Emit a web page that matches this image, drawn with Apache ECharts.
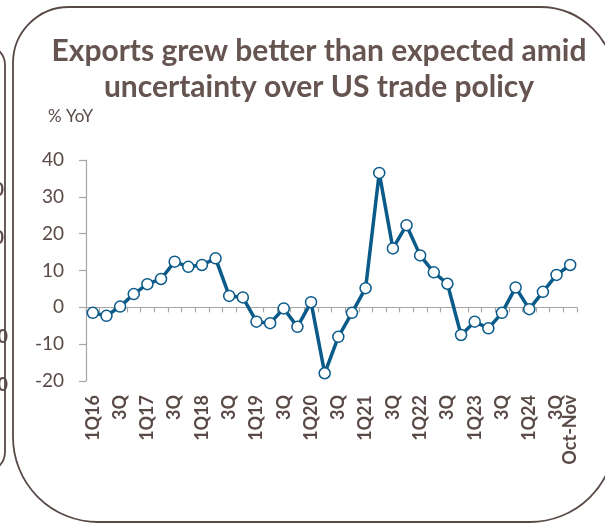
<!DOCTYPE html>
<html>
<head>
<meta charset="utf-8">
<script src="https://cdn.jsdelivr.net/npm/echarts@6/dist/echarts.min.js"></script>
<style>
  html, body { margin: 0; padding: 0; background: #ffffff; }
  #chart { width: 605px; height: 524px; }
</style>
</head>
<body>
<div id="chart"></div>
<script>
// Quarterly export growth, % YoY
const categories = [
  '1Q16', '2Q', '3Q', '4Q',
  '1Q17', '2Q', '3Q', '4Q',
  '1Q18', '2Q', '3Q', '4Q',
  '1Q19', '2Q', '3Q', '4Q',
  '1Q20', '2Q', '3Q', '4Q',
  '1Q21', '2Q', '3Q', '4Q',
  '1Q22', '2Q', '3Q', '4Q',
  '1Q23', '2Q', '3Q', '4Q',
  '1Q24', '2Q', '3Q',
  'Oct-Nov'
];
const exportsYoY = [
  -1.5, -2.3, 0.2, 3.6,
  6.3, 7.7, 12.4, 11.0,
  11.5, 13.3, 3.1, 2.7,
  -3.9, -4.3, -0.3, -5.3,
  1.4, -17.9, -8.0, -1.5,
  5.2, 36.5, 16.0, 22.3,
  14.1, 9.5, 6.4, -7.5,
  -3.9, -5.7, -1.5, 5.4,
  -0.5, 4.2, 8.8,
  11.5
];
const yTicks = { min: -20, max: 40, step: 10 };
const titleLines = ['Exports grew better than expected amid', 'uncertainty over US trade policy'];
const unitLabel = '% YoY';
const sidePanelDigits = ['0', '0', '0', '0'];

const textColor = '#5a4a47';
const frameColor = '#584946';
const lineBlue = '#0a5a8a';
const axisGrey = '#a6a6a6';

const lastIdx = categories.length - 1;

const chart = echarts.init(document.getElementById('chart'), null, { renderer: 'canvas' });

const sideDigitPos = [[4, 190], [4, 238], [8, 337], [8, 385]];

const bottomLabelStyle = {
  rotate: 90,
  margin: 14,
  fontFamily: 'Lato',
  fontWeight: 'bold',
  fontSize: 18,
  color: textColor
};

chart.setOption({
  animation: false,
  backgroundColor: '#ffffff',
  title: {
    text: titleLines.join('\n'),
    left: 314,
    top: 28,
    textAlign: 'center',
    textStyle: {
      fontFamily: 'Lato',
      fontWeight: 'bold',
      fontSize: 30,
      lineHeight: 36,
      color: '#655450'
    }
  },
  graphic: [
    // main panel frame
    {
      type: 'rect', z: -10, silent: true,
      shape: { x: 13, y: 7, width: 602, height: 515, r: [56, 75, 85, 85] },
      style: { fill: 'none', stroke: frameColor, lineWidth: 1.8 }
    },
    // edge of the neighbouring panel on the left
    {
      type: 'rect', z: -10, silent: true,
      shape: { x: -600, y: 45, width: 605, height: 427, r: [0, 20, 20, 0] },
      style: { fill: 'none', stroke: frameColor, lineWidth: 1.8 }
    },
    ...sidePanelDigits.map((d, i) => ({
      type: 'text', z: -5, silent: true,
      style: {
        text: d, x: sideDigitPos[i][0], y: sideDigitPos[i][1],
        textAlign: 'right', textVerticalAlign: 'middle',
        font: 'bold 18px Lato', fill: textColor
      }
    })),
    {
      type: 'text', silent: true,
      style: {
        text: unitLabel, x: 48, y: 117,
        textVerticalAlign: 'middle',
        font: '17px Lato', fill: textColor
      }
    }
  ],
  grid: { left: 86, right: 28, top: 160, bottom: 143 },
  xAxis: [
    {
      // quarter labels along the bottom, every other quarter
      type: 'category',
      data: categories,
      position: 'bottom',
      boundaryGap: true,
      axisLine: { show: false, onZero: false },
      axisTick: { show: false },
      axisLabel: Object.assign({
        interval: (i) => i % 2 === 0 && i < lastIdx
      }, bottomLabelStyle)
    },
    {
      // zero line with quarter ticks
      type: 'category',
      data: categories,
      position: 'bottom',
      boundaryGap: true,
      axisLine: { show: true, onZero: true, lineStyle: { color: axisGrey, width: 1.2 } },
      axisTick: { show: true, interval: 0, length: 5, lineStyle: { color: axisGrey, width: 1.2 } },
      axisLabel: { show: false }
    },
    {
      // label for the latest partial period
      type: 'category',
      data: categories,
      position: 'bottom',
      boundaryGap: true,
      axisLine: { show: false, onZero: false },
      axisTick: { show: false },
      axisLabel: Object.assign({
        interval: (i) => i === lastIdx
      }, bottomLabelStyle)
    }
  ],
  yAxis: {
    type: 'value',
    min: yTicks.min,
    max: yTicks.max,
    interval: yTicks.step,
    axisLine: { show: true, lineStyle: { color: axisGrey, width: 1.2 } },
    axisTick: { show: true, length: 7, lineStyle: { color: axisGrey, width: 1.2 } },
    splitLine: { show: false },
    axisLabel: {
      margin: 22,
      fontFamily: 'Lato',
      fontSize: 19,
      color: textColor
    }
  },
  series: [
    {
      type: 'line',
      xAxisIndex: 0,
      data: exportsYoY,
      symbol: 'circle',
      symbolSize: 11,
      showAllSymbol: true,
      lineStyle: { color: lineBlue, width: 3.5 },
      itemStyle: { color: '#ffffff', borderColor: lineBlue, borderWidth: 1.5 },
      z: 5
    }
  ]
});
</script>
</body>
</html>
